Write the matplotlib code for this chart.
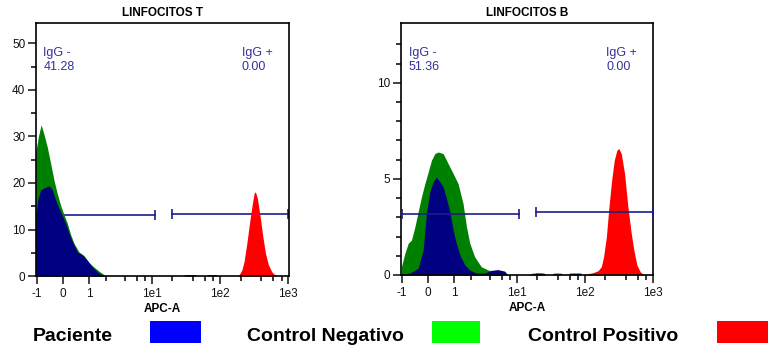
import matplotlib.pyplot as plt
from matplotlib.patches import Rectangle

plt.rcParams['font.family'] = ['Liberation Sans', 'DejaVu Sans']

# LINFOCITOS T - histogram outlines (x in APC-A units, y = count)
t_neg_x = [-1.06, -0.93, -0.81, -0.69, -0.56, -0.43, -0.31, -0.20, -0.08, 0.03, 0.14, 0.26,
           0.38, 0.56, 0.77, 0.99, 1.25, 1.55, 1.87, 2.0]
t_neg_y = [26.5, 30.0, 32.5, 30.5, 27.8, 24.2, 20.6, 17.8, 15.2, 13.2, 11.4, 8.9,
           7.0, 5.2, 4.4, 2.9, 1.9, 1.0, 0.3, 0]
t_pac_x = [-1.06, -0.96, -0.83, -0.69, -0.49, -0.37, -0.25, -0.14, -0.03, 0.09, 0.20, 0.32,
           0.50, 0.70, 0.91, 1.15, 1.43, 1.73, 1.9, 29, 31, 43, 45, 65, 67, 88, 90]
t_pac_y = [12.0, 16.3, 18.5, 18.9, 19.4, 18.5, 16.3, 14.6, 13.1, 11.3, 9.2, 7.4,
           5.2, 4.5, 3.4, 2.0, 0.9, 0.2, 0, 0, 0.3, 0.3, 0, 0, 0.3, 0.3, 0]
t_pos_x = [186, 209, 225, 247, 270, 293, 316, 330, 353, 387, 424, 463, 512, 574, 642, 680]
t_pos_y = [0, 1.3, 3.1, 7.0, 11.3, 14.9, 17.8, 18.1, 16.7, 12.8, 8.5, 4.9, 2.4, 0.9, 0.2, 0]

# LINFOCITOS B
b_neg_x = [-1.04, -0.876, -0.733, -0.599, -0.469, -0.348, -0.232, -0.115, 0.0, 0.108, 0.225,
           0.34, 0.525, 0.724, 0.946, 1.19, 1.47, 1.69, 1.92, 2.3, 2.93, 3.72, 4.7, 5.9, 6.7,
           15, 17, 23, 25, 33, 35, 45, 47]
b_neg_y = [0.43, 1.13, 1.65, 1.82, 2.5, 3.3, 4.07, 4.76, 5.37, 5.97, 6.32,
           6.4, 6.32, 5.8, 5.28, 4.76, 3.72, 2.5, 1.65, 0.95, 0.43, 0.26, 0.17, 0.1, 0,
           0, 0.1, 0.1, 0, 0, 0.1, 0.1, 0]
b_pac_x = [-1.04, -0.663, -0.348, -0.173, -0.061, 0.054, 0.167, 0.28, 0.40, 0.525, 0.655,
           0.80, 0.946, 1.1, 1.29, 1.58, 1.92, 2.44, 3.31, 4.17, 5.26, 6.61, 7.4,
           18, 19, 25, 27, 58, 60, 88, 90]
b_pac_y = [0.05, 0.1, 0.35, 1.3, 3.2, 4.33, 4.85, 5.1, 4.85, 4.59, 3.98,
           3.29, 2.34, 1.65, 1.04, 0.52, 0.26, 0.1, 0.1, 0.24, 0.28, 0.2, 0,
           0, 0.1, 0.1, 0, 0, 0.1, 0.1, 0]
b_pos_x = [100, 106, 133, 157, 176, 190, 209, 228, 250, 273, 298, 319, 346, 387, 433, 485,
           530, 587, 658, 719, 760]
b_pos_y = [0, 0.05, 0.12, 0.22, 0.43, 0.95, 1.99, 3.55, 4.94, 5.97, 6.49, 6.58, 6.32, 5.28,
           3.55, 2.17, 1.3, 0.52, 0.17, 0.05, 0]

# gates: (x start, x end, y)
t_gates = [(-1, 11.2, 13.2), (19.6, 1000, 13.4)]
b_gates = [(-1, 10.8, 3.17), (19.1, 1000, 3.27)]
t_pct = ['41.28', '0.00']
b_pct = ['51.36', '0.00']

xticks = [-1, 0, 1, 10, 100, 1000]
xticklabels = ['-1', '0', '1', '1e1', '1e2', '1e3']
xminor = [2, 4, 6, 8, 20, 40, 60, 80, 200, 400, 600, 800]

c_pac = '#000080'
c_neg = '#008000'
c_pos = '#ff0000'
c_gate = '#1c1c8c'
c_txt = '#333399'

fig = plt.figure(figsize=(7.74, 3.55), dpi=100)
ax1 = fig.add_axes([0.0461, 0.2225, 0.3269, 0.7127])
ax2 = fig.add_axes([0.5181, 0.2254, 0.3256, 0.7090])


def draw_panel(ax, title, neg, pac, pos, gates, pct, ylim, ymaj, ymin, gate_top):
    ax.set_xscale('asinh', linear_width=1)
    ax.fill_between(neg[0], neg[1], color=c_neg, lw=0, zorder=2)
    ax.fill_between(pac[0], pac[1], color=c_pac, lw=0, zorder=2.1)
    ax.fill_between(pos[0], pos[1], color=c_pos, lw=0, zorder=2.2)
    z = 3 if gate_top else 1
    for x0, x1, gy in gates:
        ax.plot([x0, x1], [gy, gy], color=c_gate, lw=1.2, zorder=z)
        ax.plot([x0, x1], [gy, gy], ls='none', marker='|', ms=7, mew=1.2,
                color=c_gate, zorder=z, clip_on=False)
    ax.text(0.03, 0.905, 'IgG -\n' + pct[0], transform=ax.transAxes, va='top', ha='left',
            fontsize=9, color=c_txt)
    ax.text(0.815, 0.905, 'IgG +\n' + pct[1], transform=ax.transAxes, va='top', ha='left',
            fontsize=9, color=c_txt)
    ax.set_xlim(-1.06, 1015)
    ax.set_ylim(*ylim)
    ax.set_xticks(xticks, labels=xticklabels)
    ax.set_xticks(xminor, minor=True)
    ax.set_yticks(ymaj)
    ax.set_yticks(ymin, minor=True)
    ax.tick_params(which='major', length=6, width=1.1, labelsize=8.5, pad=1.5, colors='#111111')
    ax.tick_params(which='minor', length=3.4, width=1.1)
    ax.tick_params(axis='x', pad=2.5)
    for s in ax.spines.values():
        s.set_linewidth(1.2)
    ax.set_title(title, fontsize=8.5, fontweight='bold', pad=5)
    ax.set_xlabel('APC-A', fontsize=8.5, fontweight='bold', labelpad=2.5)


draw_panel(ax1, 'LINFOCITOS T', (t_neg_x, t_neg_y), (t_pac_x, t_pac_y), (t_pos_x, t_pos_y),
           t_gates, t_pct, (0, 54.4), [0, 10, 20, 30, 40, 50], [5, 15, 25, 35, 45], False)
draw_panel(ax2, 'LINFOCITOS B', (b_neg_x, b_neg_y), (b_pac_x, b_pac_y), (b_pos_x, b_pos_y),
           b_gates, b_pct, (0, 13.1), [0, 5, 10], [1, 2, 3, 4, 6, 7, 8, 9, 11, 12], True)

# bottom legend
leg_labels = ['Paciente', 'Control Negativo', 'Control Positivo']
leg_colors = ['#0000ff', '#00ff00', '#ff0000']
leg_text_x = [33, 247, 528]
leg_box_x = [150, 432, 717]
leg_box_w = [51, 48, 51]
for lab, col, tx, bx, bw in zip(leg_labels, leg_colors, leg_text_x, leg_box_x, leg_box_w):
    fig.text(tx / 774, (355 - 340.7) / 355, lab, fontsize=14, fontweight='bold',
             va='baseline', ha='left')
    fig.patches.append(Rectangle((bx / 774, (355 - 342.7) / 355), bw / 774, 21.7 / 355,
                                 transform=fig.transFigure, color=col, lw=0))

fig.savefig('out.png', dpi=100)
